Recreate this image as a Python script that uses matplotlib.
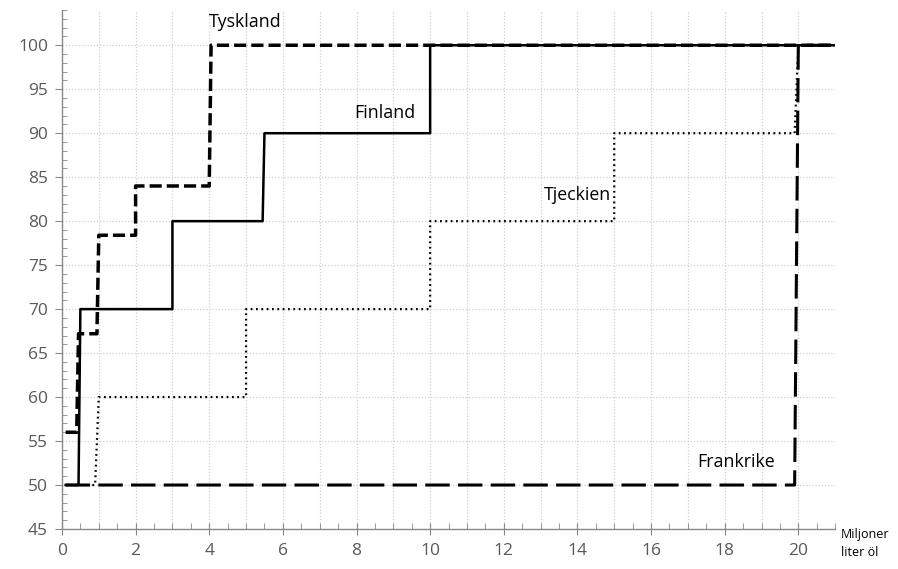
import matplotlib
matplotlib.use('Agg')
import matplotlib.pyplot as plt
from matplotlib.ticker import MultipleLocator

# step curves (x = miljoner liter öl, y = andel)
tysk_x = [0.1, 0.4, 0.45, 0.95, 1.0, 2.0, 2.0, 4.0, 4.05, 21]
tysk_y = [56, 56, 67.2, 67.2, 78.4, 78.4, 84, 84, 100, 100]

fin_x = [0.1, 0.45, 0.5, 3.0, 3.0, 5.45, 5.5, 10.0, 10.0, 21]
fin_y = [50, 50, 70, 70, 80, 80, 90, 90, 100, 100]

tje_x = [0.1, 0.9, 1.0, 5.0, 5.0, 10.0, 10.0, 15.0, 15.0, 19.9, 20.0, 21]
tje_y = [50, 50, 60, 60, 70, 70, 80, 80, 90, 90, 100, 100]

fra_x = [0.1, 19.9, 20.0, 21]
fra_y = [50, 50, 100, 100]

labels = ['Tyskland', 'Finland', 'Tjeckien', 'Frankrike']
label_pos = [(4.0, 102.6), (7.95, 92.25), (13.1, 83.0), (17.25, 52.6)]

plt.rcParams['font.family'] = ['Open Sans', 'DejaVu Sans']

fig = plt.figure(figsize=(8.98, 5.69), dpi=100)
ax = fig.add_axes([0.069, 0.0703, 0.861, 0.912])

ax.plot(tysk_x, tysk_y, color='black', lw=2.5, dashes=(3.5, 1.45))
ax.plot(fin_x, fin_y, color='black', lw=1.8)
ax.plot(tje_x, tje_y, color='black', lw=1.6, dashes=(0.8, 1.6))
ax.plot(fra_x, fra_y, color='black', lw=2.2, dashes=(8, 2.7))

for lab, (lx, ly) in zip(labels, label_pos):
    ax.text(lx, ly, lab, fontsize=12.8, color='black', ha='left', va='center')

ax.set_xlim(0, 21)
ax.set_ylim(45, 104)
ax.xaxis.set_major_locator(MultipleLocator(2))
ax.xaxis.set_minor_locator(MultipleLocator(0.5))
ax.yaxis.set_major_locator(MultipleLocator(5))
ax.yaxis.set_minor_locator(MultipleLocator(1))

# grid: horizontal every 5, vertical every 1
for yv in range(50, 101, 5):
    ax.axhline(yv, color='#d0d0d0', lw=0.9, ls=(0, (1, 1.5)), zorder=0)
for xv in range(1, 22):
    ax.axvline(xv, color='#d0d0d0', lw=0.9, ls=(0, (1, 1.5)), zorder=0)

for s in ['top', 'right']:
    ax.spines[s].set_visible(False)
for s in ['left', 'bottom']:
    ax.spines[s].set_color('#888888')
    ax.spines[s].set_linewidth(1.0)

ax.tick_params(axis='y', which='major', direction='out', length=5, color='#888888',
               labelsize=12.5, labelcolor='#595959', pad=5)
ax.tick_params(axis='y', which='minor', direction='in', length=3.6, color='#888888')
ax.tick_params(axis='x', which='major', direction='inout', length=8, color='#888888',
               labelsize=12.5, labelcolor='#595959', pad=6)
ax.tick_params(axis='x', which='minor', direction='in', length=4, color='#888888')

fig.text(0.936, 0.045, 'Miljoner\nliter öl', fontsize=9, color='black',
         ha='left', va='center', linespacing=1.5)

fig.savefig('out.png', dpi=100)
